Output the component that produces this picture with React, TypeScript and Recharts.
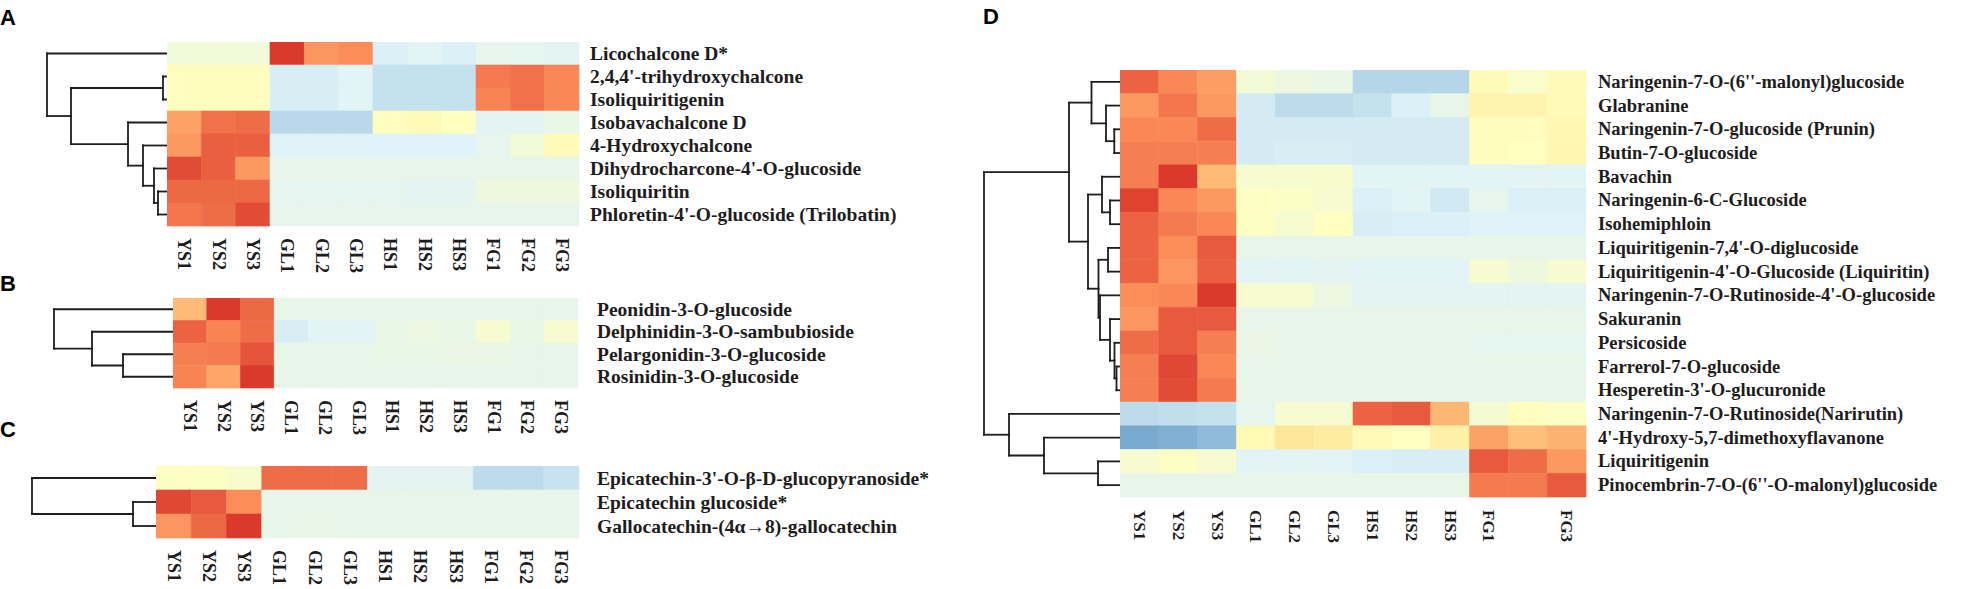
import React from 'react'
import {
  ComposedChart,
  ReferenceArea,
  ReferenceLine,
  Scatter,
  XAxis,
  YAxis,
} from 'recharts'

// sample columns, shared by all four heatmaps
const samples = ['YS1', 'YS2', 'YS3', 'GL1', 'GL2', 'GL3', 'HS1', 'HS2', 'HS3', 'FG1', 'FG2', 'FG3']
const samplesD = ['YS1', 'YS2', 'YS3', 'GL1', 'GL2', 'GL3', 'HS1', 'HS2', 'HS3', 'FG1', '', 'FG3']

// A - chalcones
const chalconeRows = [
  'Licochalcone D*',
  "2,4,4'-trihydroxychalcone",
  'Isoliquiritigenin',
  'Isobavachalcone D',
  '4-Hydroxychalcone',
  "Dihydrocharcone-4'-O-glucoside",
  'Isoliquiritin',
  "Phloretin-4'-O-glucoside (Trilobatin)",
]
const chalconeValues = [
  [-0.45, -0.4, -0.45, 2.9, 1.9, 2.0, -1.05, -0.95, -1.05, -0.8, -0.85, -0.9],
  [0.05, 0.05, 0.05, -1.1, -1.1, -0.95, -1.35, -1.35, -1.35, 2.2, 2.3, 2.05],
  [0.05, 0.05, 0.05, -1.1, -1.1, -0.95, -1.35, -1.35, -1.35, 2.1, 2.3, 2.05],
  [1.75, 2.3, 2.35, -1.5, -1.5, -1.5, 0.05, 0.15, 0.0, -0.9, -0.9, -0.7],
  [1.85, 2.5, 2.5, -1.0, -1.0, -1.0, -1.0, -1.0, -1.0, -0.8, -0.4, 0.15],
  [2.7, 2.5, 1.85, -0.75, -0.75, -0.75, -0.75, -0.75, -0.75, -0.75, -0.75, -0.75],
  [2.4, 2.4, 2.4, -0.85, -0.85, -0.85, -0.85, -0.9, -0.9, -0.55, -0.55, -0.55],
  [2.25, 2.35, 2.7, -0.8, -0.8, -0.8, -0.8, -0.8, -0.8, -0.8, -0.8, -0.8],
]
// hclust style merges: negative = row, positive = earlier merge, then height
const chalconeMerge = [
  [-2, -3, 4],
  [-7, -8, 9],
  [-6, 2, 13],
  [-5, 3, 24],
  [-4, 4, 39],
  [1, 5, 96],
  [-1, 6, 120],
]

// B - anthocyanins
const anthoRows = [
  'Peonidin-3-O-glucoside',
  'Delphinidin-3-O-sambubioside',
  'Pelargonidin-3-O-glucoside',
  'Rosinidin-3-O-glucoside',
]
const anthoValues = [
  [1.45, 2.9, 2.4, -0.75, -0.75, -0.75, -0.75, -0.75, -0.75, -0.75, -0.75, -0.75],
  [2.45, 2.1, 2.35, -1.1, -0.95, -0.95, -0.7, -0.6, -0.7, -0.3, -0.7, -0.3],
  [2.15, 2.2, 2.6, -0.75, -0.75, -0.75, -0.7, -0.7, -0.65, -0.65, -0.75, -0.75],
  [2.1, 1.7, 2.9, -0.75, -0.75, -0.75, -0.75, -0.75, -0.75, -0.75, -0.75, -0.75],
]
const anthoMerge = [
  [-3, -4, 50],
  [-2, 1, 81],
  [-1, 2, 119],
]

// C - catechins
const catechinRows = [
  "Epicatechin-3'-O-β-D-glucopyranoside*",
  'Epicatechin glucoside*',
  'Gallocatechin-(4α→8)-gallocatechin',
]
const catechinValues = [
  [-0.05, -0.05, -0.25, 2.35, 2.35, 2.35, -0.9, -0.9, -0.9, -1.45, -1.45, -1.3],
  [2.75, 2.55, 2.0, -0.75, -0.75, -0.75, -0.75, -0.75, -0.75, -0.75, -0.75, -0.75],
  [1.9, 2.4, 2.9, -0.75, -0.72, -0.75, -0.75, -0.75, -0.75, -0.75, -0.75, -0.75],
]
const catechinMerge = [
  [-2, -3, 23],
  [-1, 1, 124],
]

// D - flavanones
const flavanoneRows = [
  "Naringenin-7-O-(6''-malonyl)glucoside",
  'Glabranine',
  'Naringenin-7-O-glucoside (Prunin)',
  'Butin-7-O-glucoside',
  'Bavachin',
  'Naringenin-6-C-Glucoside',
  'Isohemiphloin',
  "Liquiritigenin-7,4'-O-diglucoside",
  "Liquiritigenin-4'-O-Glucoside (Liquiritin)",
  "Naringenin-7-O-Rutinoside-4'-O-glucoside",
  'Sakuranin',
  'Persicoside',
  'Farrerol-7-O-glucoside',
  "Hesperetin-3'-O-glucuronide",
  'Naringenin-7-O-Rutinoside(Narirutin)',
  "4'-Hydroxy-5,7-dimethoxyflavanone",
  'Liquiritigenin',
  "Pinocembrin-7-O-(6''-O-malonyl)glucoside",
]
const flavanoneValues = [
  [2.45, 2.05, 1.8, -0.4, -0.6, -0.7, -1.55, -1.55, -1.55, 0.15, -0.2, 0.15],
  [1.85, 2.25, 1.85, -1.15, -1.45, -1.45, -1.35, -1.05, -0.75, 0.35, 0.35, 0.15],
  [2.05, 2.05, 2.35, -1.15, -1.15, -1.15, -1.15, -1.15, -1.15, 0.05, 0.05, 0.25],
  [2.15, 2.15, 2.15, -1.15, -1.1, -1.1, -1.15, -1.15, -1.15, 0.05, 0.0, 0.3],
  [2.15, 2.9, 1.45, -0.3, -0.3, -0.25, -0.95, -0.95, -0.95, -0.95, -0.95, -0.95],
  [2.8, 2.05, 1.85, -0.05, -0.1, -0.3, -1.05, -0.95, -1.2, -0.8, -1.05, -1.05],
  [2.45, 2.2, 2.05, -0.05, -0.3, 0.0, -1.1, -1.05, -1.05, -1.0, -1.0, -1.0],
  [2.45, 2.0, 2.55, -0.75, -0.75, -0.75, -0.75, -0.75, -0.75, -0.75, -0.75, -0.75],
  [2.45, 1.9, 2.5, -0.95, -0.95, -0.9, -0.95, -0.95, -0.95, -0.3, -0.55, -0.3],
  [2.0, 2.05, 2.9, -0.3, -0.3, -0.6, -0.9, -0.9, -0.9, -0.9, -0.9, -0.9],
  [1.9, 2.55, 2.55, -0.75, -0.75, -0.75, -0.75, -0.75, -0.75, -0.75, -0.75, -0.75],
  [2.35, 2.55, 2.15, -0.65, -0.75, -0.75, -0.75, -0.75, -0.75, -0.85, -0.85, -0.85],
  [2.15, 2.75, 2.05, -0.75, -0.75, -0.75, -0.75, -0.75, -0.75, -0.75, -0.75, -0.75],
  [2.15, 2.7, 2.2, -0.75, -0.75, -0.75, -0.75, -0.75, -0.75, -0.75, -0.75, -0.75],
  [-1.45, -1.4, -1.35, -0.8, -0.3, -0.3, 2.45, 2.55, 1.5, -0.35, 0.05, -0.1],
  [-2.3, -2.2, -2.05, 0.2, 0.8, 0.6, 0.15, 0.0, 0.5, 1.75, 1.4, 1.55],
  [-0.3, -0.05, -0.3, -0.95, -0.95, -0.95, -1.05, -1.1, -1.1, 2.55, 2.35, 1.85],
  [-0.75, -0.75, -0.75, -0.75, -0.75, -0.75, -0.75, -0.75, -0.75, 2.2, 2.2, 2.55],
]
const flavanoneMerge = [
  [-3, -4, 5.7],
  [-2, 1, 14],
  [-1, 2, 28.5],
  [-6, -7, 10],
  [-5, 4, 18],
  [-8, -9, 12],
  [-13, -14, 3.5],
  [-12, 7, 5.5],
  [-11, 8, 10],
  [-10, 9, 20],
  [6, 10, 21.5],
  [5, 11, 32],
  [3, 12, 51],
  [-17, -18, 22],
  [-16, 14, 76],
  [-15, 15, 111],
  [13, 16, 136],
]

// reversed RdYlBu ramp
const colorStops: [number, string][] = [
  [-3, '#4575B4'],
  [-2, '#91BFDB'],
  [-1, '#E0F3F8'],
  [0, '#FFFFBF'],
  [1, '#FEE090'],
  [2, '#FC8D59'],
  [3, '#D73027'],
]

function hexToRgb(h: string) {
  return [1, 3, 5].map((i) => parseInt(h.slice(i, i + 2), 16))
}

function colorOf(v: number) {
  const x = Math.max(-3, Math.min(3, v))
  let i = 0
  while (i < colorStops.length - 2 && x > colorStops[i + 1][0]) i++
  const [v0, c0] = colorStops[i]
  const [v1, c1] = colorStops[i + 1]
  const t = (x - v0) / (v1 - v0)
  const a = hexToRgb(c0)
  const b = hexToRgb(c1)
  const rgb = a.map((ch, k) => Math.round(ch + (b[k] - ch) * t))
  return `rgb(${rgb[0]},${rgb[1]},${rgb[2]})`
}

type Pt = { x: number; y: number }

function treeSegments(merge: number[][]) {
  const ys: number[] = []
  const hs: number[] = []
  const pos = (k: number) => (k < 0 ? { y: -k - 0.5, h: 0 } : { y: ys[k - 1], h: hs[k - 1] })
  const segs: [Pt, Pt][] = []
  merge.forEach(([a, b, h]) => {
    const pa = pos(a)
    const pb = pos(b)
    segs.push([{ x: pa.h, y: pa.y }, { x: h, y: pa.y }])
    segs.push([{ x: pb.h, y: pb.y }, { x: h, y: pb.y }])
    segs.push([{ x: h, y: pa.y }, { x: h, y: pb.y }])
    ys.push((pa.y + pb.y) / 2)
    hs.push(h)
  })
  return segs
}

const serif = '"Liberation Serif", "Times New Roman", serif'
const ink = '#1e1c1c'

type PanelProps = {
  rows: string[]
  cols: string[]
  values: number[][]
  merge: number[][]
  left: number
  top: number
  width: number
  height: number
  treeLeft: number
  rowGap: number
  colGap: number
  labelWidth: number
  labelSize: number
  colSize: number
}

function Panel({ rows, cols, values, merge, left, top, width, height, treeLeft, rowGap, colGap, labelWidth, labelSize, colSize }: PanelProps) {
  const nRows = rows.length
  const nCols = cols.length
  const cells = values.flatMap((row, r) => row.map((v, c) => ({ x: c + 0.5, y: r + 0.5, r, c, v })))
  const segs = treeSegments(merge)
  const rootH = merge[merge.length - 1][2]
  const treeW = left - treeLeft
  const leaves = rows.map((_, i) => ({ x: 0, y: i + 0.5 }))

  return (
    <>
      <div style={{ position: 'absolute', left: treeLeft - 2, top }}>
        <ComposedChart width={treeW + 2} height={height} margin={{ top: 0, right: 0, bottom: 0, left: 2 }}>
          <XAxis type="number" dataKey="x" domain={[0, rootH]} reversed hide />
          <YAxis type="number" dataKey="y" domain={[0, nRows]} reversed hide />
          <Scatter data={leaves} isAnimationActive={false} shape={() => <g />} />
          {segs.map((s, i) => (
            <ReferenceLine
              key={i}
              segment={s}
              stroke={ink}
              strokeWidth={1.8}
              strokeLinecap="square"
              ifOverflow="visible"
            />
          ))}
        </ComposedChart>
      </div>
      <div style={{ position: 'absolute', left, top }}>
        <ComposedChart width={width + labelWidth} height={height + 60} margin={{ top: 0, right: 0, bottom: 0, left: 0 }}>
          <XAxis
            type="number"
            dataKey="x"
            domain={[0, nCols]}
            ticks={cols.map((_, i) => i + 0.5)}
            interval={0}
            height={60}
            tickSize={0}
            tickMargin={colGap}
            axisLine={false}
            tickLine={false}
            tick={(p: any) => (
              <text
                key={p.index}
                transform={`translate(${p.x},${p.y}) rotate(90)`}
                textAnchor="start"
                dominantBaseline="central"
                fontFamily={serif}
                fontWeight="bold"
                fontSize={colSize}
                fill={ink}
              >
                {cols[Math.floor(p.payload.value)]}
              </text>
            )}
          />
          <YAxis
            type="number"
            dataKey="y"
            orientation="right"
            domain={[0, nRows]}
            reversed
            ticks={rows.map((_, i) => i + 0.5)}
            interval={0}
            width={labelWidth}
            tickSize={0}
            tickMargin={rowGap}
            axisLine={false}
            tickLine={false}
            tick={(p: any) => (
              <text
                key={p.index}
                x={p.x}
                y={p.y}
                textAnchor="start"
                dominantBaseline="central"
                fontFamily={serif}
                fontWeight="bold"
                fontSize={labelSize}
                fill={ink}
              >
                {rows[Math.floor(p.payload.value)]}
              </text>
            )}
          />
          {cells.map((cell) => {
            const fill = colorOf(cell.v)
            return (
              <ReferenceArea
                key={`${cell.r}-${cell.c}`}
                x1={cell.c}
                x2={cell.c + 1}
                y1={cell.r}
                y2={cell.r + 1}
                fill={fill}
                fillOpacity={1}
                stroke={fill}
                strokeWidth={0.6}
              />
            )
          })}
          <Scatter data={cells} isAnimationActive={false} shape={() => <g />} />
        </ComposedChart>
      </div>
    </>
  )
}

const letterStyle = {
  fontFamily: '"Liberation Sans", Arial, sans-serif',
  fontWeight: 'bold' as const,
  fontSize: 22,
  fill: '#000',
}

export default function App() {
  return (
    <div style={{ position: 'absolute', left: 0, top: 0, width: 1977, height: 589, overflow: 'hidden', background: '#fff' }}>
      <svg width={1977} height={589} style={{ position: 'absolute', left: 0, top: 0 }}>
        <text x={0} y={25} {...letterStyle}>A</text>
        <text x={0} y={291} {...letterStyle}>B</text>
        <text x={0} y={437} {...letterStyle}>C</text>
        <text x={983} y={24} {...letterStyle}>D</text>
      </svg>
      <Panel
        rows={chalconeRows}
        cols={samples}
        values={chalconeValues}
        merge={chalconeMerge}
        left={167}
        top={42}
        width={412}
        height={184}
        treeLeft={47}
        rowGap={11}
        colGap={12}
        labelWidth={340}
        labelSize={19.5}
        colSize={18}
      />
      <Panel
        rows={anthoRows}
        cols={samples}
        values={anthoValues}
        merge={anthoMerge}
        left={173}
        top={298}
        width={405}
        height={90}
        treeLeft={54}
        rowGap={19}
        colGap={12}
        labelWidth={340}
        labelSize={19.5}
        colSize={18}
      />
      <Panel
        rows={catechinRows}
        cols={samples}
        values={catechinValues}
        merge={catechinMerge}
        left={156}
        top={466}
        width={423}
        height={72}
        treeLeft={32}
        rowGap={18}
        colGap={12}
        labelWidth={360}
        labelSize={19.5}
        colSize={18}
      />
      <Panel
        rows={flavanoneRows}
        cols={samplesD}
        values={flavanoneValues}
        merge={flavanoneMerge}
        left={1120}
        top={70}
        width={466}
        height={427}
        treeLeft={984}
        rowGap={12}
        colGap={13}
        labelWidth={385}
        labelSize={18.5}
        colSize={17}
      />
    </div>
  )
}
